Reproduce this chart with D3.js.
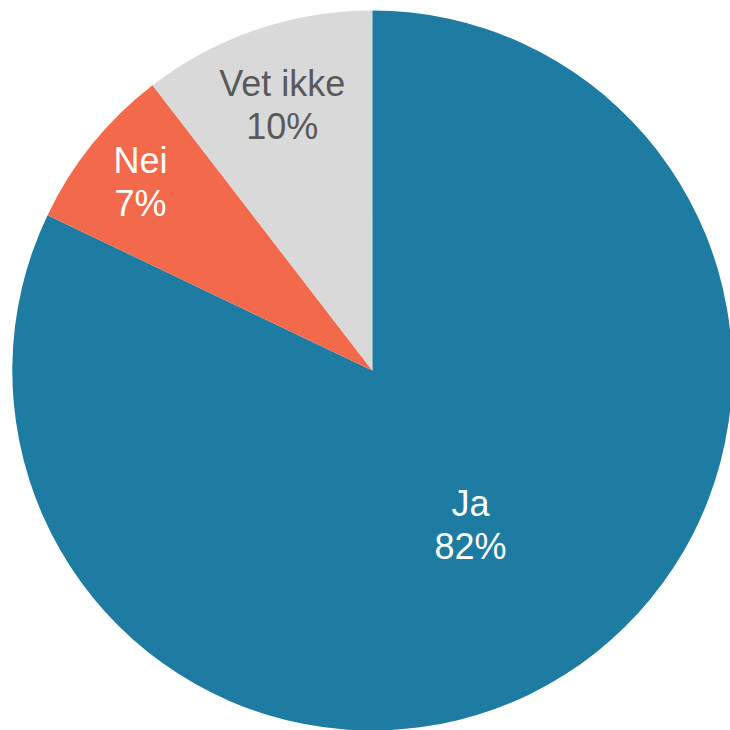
<!DOCTYPE html>
<html>
<head>
<meta charset="utf-8">
<script src="https://cdn.jsdelivr.net/npm/d3@7"></script>
<style>
  html, body { margin: 0; padding: 0; background: #fff; }
  svg { display: block; }
</style>
</head>
<body>
<svg id="chart" width="730" height="730"></svg>
<script>
const categories = ["Ja", "Nei", "Vet ikke"];
const values = [82.1, 7.45, 10.45];
const colors = ["#1E7CA2", "#F2694B", "#D9D9D9"];
const textColors = ["#FFFFFF", "#FFFFFF", "#595959"];
const labelRadiusFrac = [0.512, 0.828, 0.775];

const svg = d3.select("#chart");
const cx = 372.3, cy = 370.5, R = 360;
const g = svg.append("g").attr("transform", `translate(${cx},${cy})`);

const data = categories.map((c, i) => ({ cat: c, value: values[i], i }));
const pie = d3.pie().value(d => d.value).sort(null);
const arcs = pie(data);
const arc = d3.arc().innerRadius(0).outerRadius(R);

g.selectAll("path").data(arcs).enter().append("path")
  .attr("d", arc)
  .attr("fill", d => colors[d.data.i]);

const labels = g.selectAll("text.lbl").data(arcs).enter().append("text")
  .attr("class", "lbl")
  .attr("text-anchor", "middle")
  .attr("font-family", "'Liberation Sans', Arial, sans-serif")
  .attr("font-size", 36)
  .attr("fill", d => textColors[d.data.i])
  .attr("transform", d => {
    const a = (d.startAngle + d.endAngle) / 2;
    const r = R * labelRadiusFrac[d.data.i];
    return `translate(${r * Math.sin(a)},${-r * Math.cos(a)})`;
  });
labels.append("tspan").attr("x", 0).attr("y", -10).text(d => d.data.cat);
labels.append("tspan").attr("x", 0).attr("y", 33).text(d => Math.round(d.data.value) + "%");
</script>
</body>
</html>
